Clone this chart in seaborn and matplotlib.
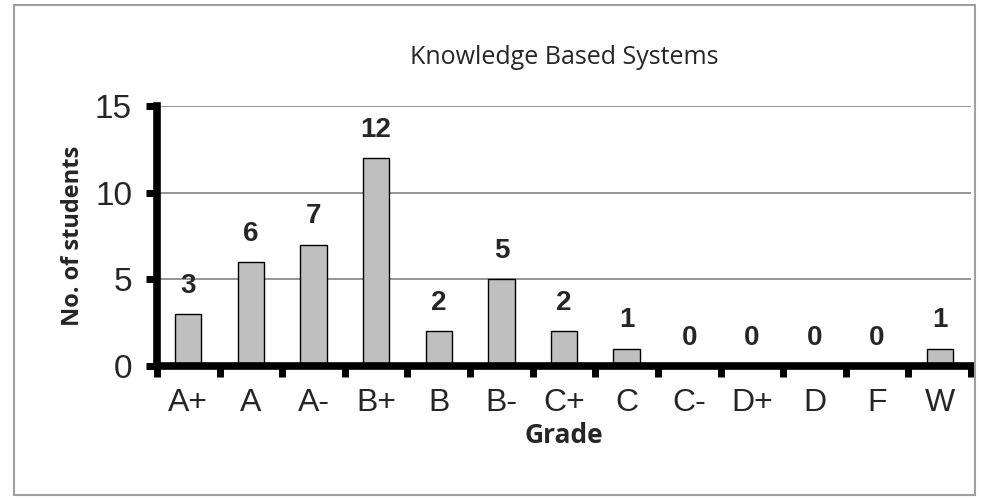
import matplotlib
matplotlib.use("Agg")
import matplotlib.pyplot as plt
import seaborn as sns
import pandas as pd
import numpy as np
from matplotlib.patches import Rectangle

grades = ["A+", "A", "A-", "B+", "B", "B-", "C+", "C", "C-", "D+", "D", "F", "W"]
students = [3, 6, 7, 12, 2, 5, 2, 1, 0, 0, 0, 0, 1]
yticks = [0, 5, 10, 15]

df = pd.DataFrame({"Grade": grades, "Students": students})

sns.set_style("white")
fig = plt.figure(figsize=(9.88, 5.0), dpi=100)
fig.patches.append(Rectangle((14/988, 5/500), (975-14)/988, (495-5)/500,
                             transform=fig.transFigure, fill=False,
                             edgecolor="#a0a0a0", linewidth=1.5, zorder=0))
ax = fig.add_axes([157/988, 134/500, (971-157)/988, (366-106)/500])

sns.barplot(data=df, x="Grade", y="Students", ax=ax, color="#bfbfbf",
            edgecolor="black", linewidth=1.0, width=0.42, saturation=1, zorder=3)

ax.set_xlim(-0.5, len(grades) - 0.5)
ax.set_ylim(0, 15)
ax.set_yticks(yticks)
ax.set_yticklabels([str(t) for t in yticks], fontsize=24, family="Liberation Sans")
ax.set_xticks(range(len(grades)))
ax.set_xticklabels(grades, fontsize=23, family="Liberation Sans")
ax.set_xticks(np.arange(-0.5, len(grades), 1.0), minor=True)
ax.tick_params(axis="x", which="both", bottom=True)
ax.tick_params(axis="y", which="both", left=True)
ax.tick_params(axis="x", which="major", length=0, pad=16)
ax.tick_params(axis="x", which="minor", length=8, width=5, direction="out", color="black")
ax.tick_params(axis="y", which="major", length=8, width=5, direction="out", color="black", pad=10)

ax.yaxis.grid(True, color="#8c8c8c", linewidth=1.3, zorder=0)
ax.set_axisbelow(True)
for s in ["top", "right"]:
    ax.spines[s].set_visible(False)
for s in ["left", "bottom"]:
    ax.spines[s].set_linewidth(5.5)
    ax.spines[s].set_color("black")
    ax.spines[s].set_zorder(4)
    ax.spines[s].set_capstyle("projecting")

for container in ax.containers:
    ax.bar_label(container, labels=[str(v) for v in students], padding=11,
                 fontsize=20, fontweight="bold", family="Liberation Sans")

ax.set_xlabel("Grade", fontsize=19, fontweight="bold", family="Open Sans")
ax.xaxis.set_label_coords(0.5, -0.215)
ax.set_ylabel("No. of students", fontsize=17, fontweight="bold", family="Open Sans")
ax.yaxis.set_label_coords(-0.088, 0.5)
ax.set_title("Knowledge Based Systems", fontsize=18, family="Open Sans", pad=30)

fig.savefig("out.png", dpi=100)
